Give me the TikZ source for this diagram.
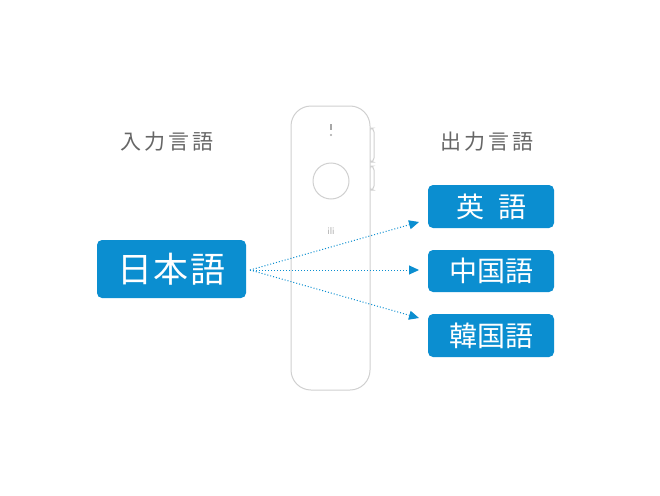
\documentclass[tikz,border=0pt]{standalone}
\usepackage{fontspec}
\newfontfamily\cjk{Noto Sans CJK JP}
\usetikzlibrary{arrows.meta}
\definecolor{bl}{HTML}{0B8ED0}
\definecolor{dev}{HTML}{D0D0D0}
\begin{document}
\begin{tikzpicture}[x=1pt,y=-1pt,
  box/.style={fill=bl,rounded corners=5pt,text=white,font=\cjk\fontsize{28}{30}\selectfont,inner sep=0pt},
  lab/.style={text=black!60,font=\cjk\fontsize{21}{23}\selectfont},
  arr/.style={bl,dotted,line width=1pt,-{Triangle[length=10pt,width=9pt]}}]
\useasboundingbox (0,0) rectangle (660,495);
\fill[white] (0,0) rectangle (660,495);
% device
\draw[dev,line width=1pt,rounded corners=4pt] (369,128) rectangle (374,162);
\draw[dev,line width=1pt,rounded corners=4pt] (369,166) rectangle (374,190);
\draw[dev,line width=1pt,fill=white,rounded corners=20pt] (291,106) rectangle (370,390);
\draw[dev,line width=1pt] (331,181) circle (18);
\draw[dev!80!black,line width=1.2pt] (331,124) -- (331,130);
\fill[dev!80!black] (331,135) circle (1.2);
\node[text=dev!80!black,font=\sffamily] (ili) at (331,231) {ili};
% labels
\node[lab] (in) at (167,142) {入\hspace{3pt}力\hspace{3pt}言\hspace{3pt}語};
\node[lab] (out) at (487,142) {出\hspace{3pt}力\hspace{3pt}言\hspace{3pt}語};
\node[box,minimum width=149pt,minimum height=58pt,font=\cjk\fontsize{35}{37}\selectfont] (ja) at (171.5,269) {日\hspace{2pt}本\hspace{2pt}語};
\node[box,minimum width=126pt,minimum height=43pt] (en) at (491,206.5) {英\hspace{14pt}語};
\node[box,minimum width=126pt,minimum height=42pt] (zh) at (491,271) {中国語};
\node[box,minimum width=126pt,minimum height=43pt] (ko) at (491,335.5) {韓国語};
\coordinate (s) at (250,270);
\coordinate (t1) at (419,222);
\coordinate (t2) at (419,270);
\coordinate (t3) at (419,318);
\draw[arr] (s) -- (t1);
\draw[arr] (s) -- (t2);
\draw[arr] (s) -- (t3);
\end{tikzpicture}
\end{document}
